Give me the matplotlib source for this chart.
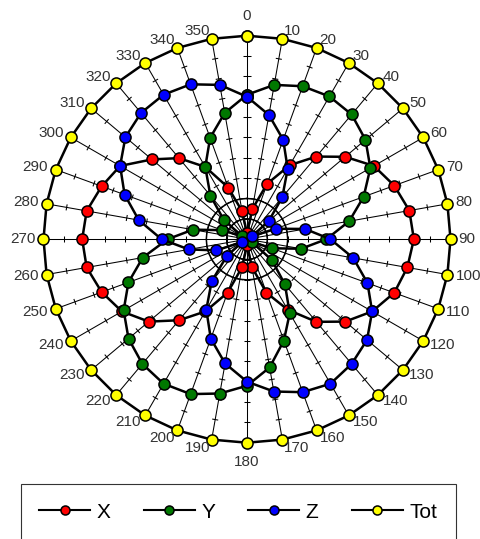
import numpy as np
import matplotlib.pyplot as plt
from matplotlib.lines import Line2D
from matplotlib.collections import LineCollection

plt.rcParams['font.family'] = ['Liberation Sans', 'DejaVu Sans']

angles = list(range(0, 360, 10))
labels = [str(a) for a in angles]

x_comp = [0.03, 0.15, 0.29, 0.42, 0.53, 0.63, 0.72, 0.77, 0.81, 0.82, 0.80, 0.77,
          0.71, 0.63, 0.53, 0.40, 0.28, 0.14, 0.03, 0.14, 0.28, 0.41, 0.52, 0.63,
          0.71, 0.76, 0.80, 0.81, 0.80, 0.76, 0.72, 0.61, 0.52, 0.41, 0.27, 0.14]
y_comp = [0.71, 0.77, 0.80, 0.81, 0.80, 0.76, 0.70, 0.61, 0.51, 0.39, 0.27, 0.13,
          0.03, 0.16, 0.29, 0.42, 0.53, 0.64, 0.72, 0.77, 0.81, 0.82, 0.80, 0.76,
          0.70, 0.62, 0.52, 0.39, 0.27, 0.13, 0.03, 0.15, 0.28, 0.41, 0.53, 0.63]
z_comp = [0.70, 0.62, 0.52, 0.40, 0.27, 0.14, 0.03, 0.15, 0.29, 0.41, 0.53, 0.63,
          0.71, 0.77, 0.80, 0.82, 0.80, 0.76, 0.70, 0.62, 0.52, 0.40, 0.27, 0.13,
          0.03, 0.16, 0.29, 0.42, 0.54, 0.64, 0.72, 0.78, 0.81, 0.82, 0.81, 0.77]
tot = [1.00, 1.00, 1.00, 1.00, 1.00, 1.00, 1.00, 1.00, 1.00, 1.00, 1.00, 1.00,
       1.00, 1.00, 1.00, 1.00, 1.00, 1.00, 1.00, 1.00, 1.00, 1.00, 1.00, 1.00,
       1.00, 1.00, 1.00, 1.00, 1.00, 1.00, 1.00, 1.00, 1.00, 1.00, 1.00, 1.00]

r_max = 1.0
tick_vals = [0.1, 0.2, 0.3, 0.4, 0.5, 0.6, 0.7, 0.8, 0.9]
grid_rings = [0.1, 0.2]

series = [(x_comp, '#ff0000', 'X'),
          (y_comp, '#007800', 'Y'),
          (z_comp, '#0000ff', 'Z'),
          (tot, '#ffff00', 'Tot')]

theta = np.deg2rad(angles)


def to_xy(r):
    r = np.append(r, r[0])
    t = np.append(theta, theta[0])
    return r * np.sin(t), r * np.cos(t)


fig = plt.figure(figsize=(4.8, 5.39), dpi=100)
ax = fig.add_axes([0, 0, 1, 1])
scale = 203.5
cx, cy = 247, 239.2
ax.set_xlim(-cx / scale, (480 - cx) / scale)
ax.set_ylim((cy - 539) / scale, cy / scale)
ax.axis('off')

# spokes with small cross ticks
for t in theta:
    ax.plot([0, r_max * np.sin(t)], [0, r_max * np.cos(t)], color='k', lw=0.75, zorder=1)
segs = []
for i, t in enumerate(theta):
    h = 0.02 if i == 0 else 0.015
    for r in tick_vals:
        px, py = r * np.sin(t), r * np.cos(t)
        dx, dy = h * np.cos(t), -h * np.sin(t)
        segs.append([(px - dx, py - dy), (px + dx, py + dy)])
ax.add_collection(LineCollection(segs, colors='k', linewidths=0.75, zorder=1))

for r in grid_rings:
    xs, ys = to_xy([r] * len(angles))
    ax.plot(xs, ys, color='k', lw=1.1, zorder=1)

for vals, col, lab in series:
    xs, ys = to_xy(vals)
    ax.plot(xs, ys, color='k', lw=1.8, marker='o', ms=8, mfc=col, mec='k', mew=1.1,
            zorder=3)

# category labels
for a, t, lab in zip(angles, theta, labels):
    s, c = np.sin(t), np.cos(t)
    if a in (0, 180):
        ax.text(1.095 * s, 1.095 * c, lab, ha='center', va='center', fontsize=11,
                color='#333333')
    else:
        ax.text(1.04 * s, 1.04 * c, lab, ha='left' if s > 0 else 'right',
                va='center', fontsize=11, color='#333333')

handles = [Line2D([], [], color='k', lw=1.5, marker='o', ms=6.5, mfc=col, mec='k', mew=1.1)
           for _, col, _ in series]
leg = fig.legend(handles, [lab for _, _, lab in series], loc='upper left',
                 bbox_to_anchor=(20.7 / 480, 1 - 484 / 539), ncol=4, fontsize=15,
                 handlelength=2.45, handletextpad=0.3, columnspacing=1.6,
                 borderpad=0.9, borderaxespad=0, fancybox=False, framealpha=1,
                 edgecolor='#333333')
leg.get_frame().set_linewidth(0.8)

fig.savefig('out.png', dpi=100)
